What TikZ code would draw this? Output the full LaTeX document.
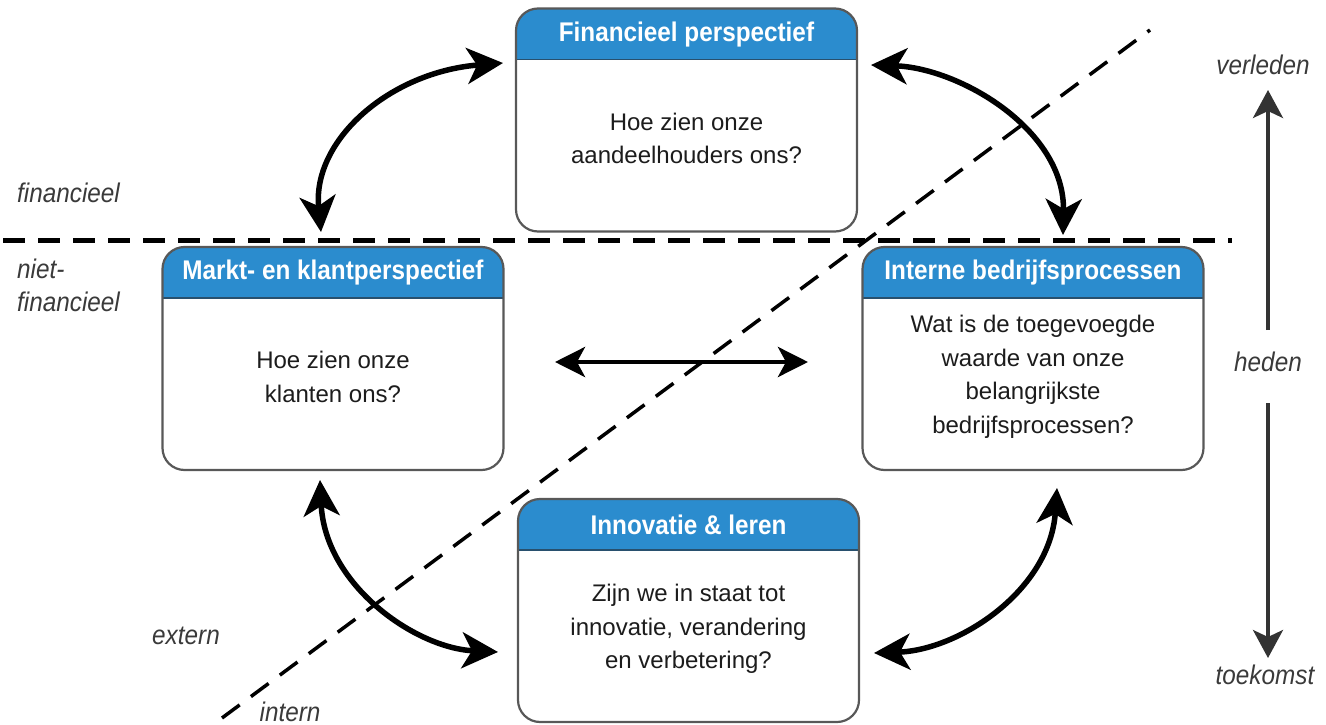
\documentclass[tikz,border=0pt]{standalone}
\usepackage{fontspec}
\setmainfont{Liberation Sans}
\newfontfamily\narrowfont[FakeStretch=0.9]{Liberation Sans}
\usetikzlibrary{arrows.meta,calc}

\definecolor{hdrblue}{RGB}{43,140,206}
\definecolor{hdrline}{RGB}{40,80,110}
\definecolor{edgegray}{RGB}{88,88,88}
\definecolor{inkgray}{RGB}{28,28,28}
\definecolor{labelgray}{RGB}{58,58,58}

\tikzset{
  panel/.style={minimum width=341pt, minimum height=223pt, inner sep=0pt, outer sep=0pt},
  paneltitle/.style={text=white, inner sep=0pt, font=\narrowfont\bfseries\fontsize{27}{30}\selectfont},
  panelbody/.style={text=inkgray, inner sep=0pt, align=center, font=\fontsize{24}{33.5}\selectfont},
  sidelabel/.style={text=labelgray, inner sep=0pt, align=left, font=\narrowfont\itshape\fontsize{27}{33}\selectfont},
  bigtip/.tip={Stealth[length=36pt,width=36pt,inset=10pt]},
  midtip/.tip={Stealth[length=30pt,width=30pt,inset=8pt]},
  timetip/.tip={Stealth[length=28pt,width=30pt,inset=7pt]},
  link/.style={line width=5.5pt, black, bigtip-bigtip},
  straightlink/.style={line width=4.5pt, black, midtip-midtip},
  timeline/.style={line width=3.5pt, black!80, -timetip},
  divider/.style={line width=5pt, black, dash pattern=on 22pt off 13pt},
  diagonal/.style={line width=3.5pt, black, dash pattern=on 22pt off 14pt},
}

% one scorecard panel: name, centre, title, question
\newcommand\bscpanel[4]{%
  \node[panel] (#1) at (#2) {};
  \begin{scope}
    \clip[rounded corners=22pt] (#1.south west) rectangle (#1.north east);
    \fill[white] (#1.south west) rectangle (#1.north east);
    \fill[hdrblue] (#1.north west) rectangle ($(#1.north east)+(0,51)$);
  \end{scope}
  \draw[line width=1.5pt, hdrline] ($(#1.north west)+(0,51)$) -- ($(#1.north east)+(0,51)$);
  \draw[line width=2.2pt, edgegray, rounded corners=22pt] (#1.south west) rectangle (#1.north east);
  \node[paneltitle] (#1-title) at ($(#1.north)+(0,26)$) {#3};
  \node[panelbody] (#1-body) at ($(#1.north)+(0,130)$) {#4};
}

\begin{document}
\begin{tikzpicture}[x=1pt, y=-1pt]
\useasboundingbox (0,0) rectangle (1326,725);

% dividing lines
\coordinate (hline-l) at (3,240);
\coordinate (hline-r) at (1232,240);
\draw[divider] (hline-l) -- (hline-r);
\coordinate (dline-b) at (222,718);
\coordinate (dline-t) at (1150,30);
\draw[diagonal] (dline-b) -- (dline-t);

% the four perspectives
\bscpanel{fin}{686.5,120}{Financieel perspectief}{Hoe zien onze\\aandeelhouders ons?}
\bscpanel{klant}{333,358.5}{Markt- en klantperspectief}{Hoe zien onze\\klanten ons?}
\bscpanel{intern}{1033,358.5}{Interne bedrijfsprocessen}{Wat is de toegevoegde\\waarde van onze\\belangrijkste\\bedrijfsprocessen?}
\bscpanel{innov}{688.5,610.5}{Innovatie \& leren}{Zijn we in staat tot\\innovatie, verandering\\en verbetering?}

% side labels
\node[sidelabel, anchor=west] (lbl-fin) at (17,193) {financieel};
\node[sidelabel, anchor=west] (lbl-nietfin) at (17,285) {niet-\\financieel};
\node[sidelabel] (lbl-extern) at (186,636) {extern};
\node[sidelabel] (lbl-intern) at (290,712) {intern};

% time axis
\node[sidelabel] (verleden) at (1263,65) {verleden};
\node[sidelabel] (heden) at (1268,362) {heden};
\node[sidelabel] (toekomst) at (1265,675) {toekomst};
\draw[timeline] ($(heden)+(0,-32)$) -- ($(verleden)+(5,25)$);
\draw[timeline] ($(heden)+(0,41)$) -- ($(toekomst)+(3,-17)$);

% links between the perspectives
\coordinate (tl-a) at (321,232);
\coordinate (tl-b) at (503,63);
\draw[link] (tl-a) .. controls (312,140) and (390,72) .. (tl-b);
\coordinate (tr-a) at (871,65);
\coordinate (tr-b) at (1063,235);
\draw[link] (tr-a) .. controls (960,68) and (1065,130) .. (tr-b);
\coordinate (bl-a) at (320,480);
\coordinate (bl-b) at (498,652);
\draw[link] (bl-a) .. controls (325,585) and (415,648) .. (bl-b);
\coordinate (br-a) at (1057,488);
\coordinate (br-b) at (874,653);
\draw[link] (br-a) .. controls (1050,590) and (960,650) .. (br-b);
\coordinate (mid-l) at (555,362);
\coordinate (mid-r) at (808,362);
\draw[straightlink] (mid-l) -- (mid-r);
\end{tikzpicture}
\end{document}
